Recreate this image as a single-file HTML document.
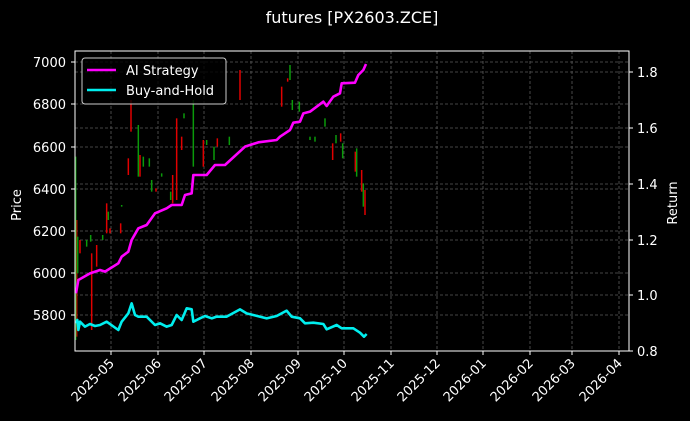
<!DOCTYPE html>
<html><head><meta charset="utf-8"><style>
html,body{margin:0;padding:0;background:#000;}
svg{display:block;font-family:"DejaVu Sans","Liberation Sans",sans-serif;}
</style></head><body>
<svg width="690" height="421" viewBox="0 0 690 421" xmlns="http://www.w3.org/2000/svg">
<rect width="690" height="421" fill="#000"/>
<text x="352" y="23" fill="#fff" font-size="16" text-anchor="middle">futures [PX2603.ZCE]</text>
<g stroke="#5a5a5a" stroke-width="0.8" stroke-dasharray="3,2">
<line x1="111" y1="51" x2="111" y2="351"/><line x1="158" y1="51" x2="158" y2="351"/><line x1="204" y1="51" x2="204" y2="351"/><line x1="251" y1="51" x2="251" y2="351"/><line x1="298" y1="51" x2="298" y2="351"/><line x1="344" y1="51" x2="344" y2="351"/><line x1="391" y1="51" x2="391" y2="351"/><line x1="437" y1="51" x2="437" y2="351"/><line x1="483" y1="51" x2="483" y2="351"/><line x1="530" y1="51" x2="530" y2="351"/><line x1="572" y1="51" x2="572" y2="351"/><line x1="619" y1="51" x2="619" y2="351"/>
<line x1="75" y1="62" x2="629" y2="62"/><line x1="75" y1="104" x2="629" y2="104"/><line x1="75" y1="147" x2="629" y2="147"/><line x1="75" y1="189" x2="629" y2="189"/><line x1="75" y1="231" x2="629" y2="231"/><line x1="75" y1="273" x2="629" y2="273"/><line x1="75" y1="315" x2="629" y2="315"/>
<line x1="75" y1="72" x2="629" y2="72"/><line x1="75" y1="128" x2="629" y2="128"/><line x1="75" y1="184" x2="629" y2="184"/><line x1="75" y1="240" x2="629" y2="240"/><line x1="75" y1="295" x2="629" y2="295"/>
</g>
<g transform="translate(60,40) scale(0.33333)">
<g stroke="#e00000">
<line x1="50" y1="540" x2="50" y2="890" stroke-width="1.5" vector-effect="non-scaling-stroke"/><line x1="60" y1="600" x2="60" y2="640" stroke-width="1.5" vector-effect="non-scaling-stroke"/><line x1="95" y1="640" x2="95" y2="870" stroke-width="1.5" vector-effect="non-scaling-stroke"/><line x1="110" y1="615" x2="110" y2="680" stroke-width="1.5" vector-effect="non-scaling-stroke"/><line x1="140" y1="490" x2="140" y2="580" stroke-width="1.5" vector-effect="non-scaling-stroke"/><line x1="150" y1="565" x2="150" y2="580" stroke-width="1.5" vector-effect="non-scaling-stroke"/><line x1="182" y1="550" x2="182" y2="580" stroke-width="1.5" vector-effect="non-scaling-stroke"/><line x1="205" y1="355" x2="205" y2="405" stroke-width="1.5" vector-effect="non-scaling-stroke"/><line x1="213" y1="180" x2="213" y2="275" stroke-width="1.5" vector-effect="non-scaling-stroke"/><line x1="240" y1="345" x2="240" y2="410" stroke-width="1.5" vector-effect="non-scaling-stroke"/><line x1="288" y1="445" x2="288" y2="455" stroke-width="1.5" vector-effect="non-scaling-stroke"/><line x1="338" y1="405" x2="338" y2="490" stroke-width="1.5" vector-effect="non-scaling-stroke"/><line x1="350" y1="235" x2="350" y2="480" stroke-width="1.5" vector-effect="non-scaling-stroke"/><line x1="365" y1="290" x2="365" y2="330" stroke-width="1.5" vector-effect="non-scaling-stroke"/><line x1="430" y1="300" x2="430" y2="380" stroke-width="1.5" vector-effect="non-scaling-stroke"/><line x1="472" y1="295" x2="472" y2="320" stroke-width="1.5" vector-effect="non-scaling-stroke"/><line x1="540" y1="90" x2="540" y2="180" stroke-width="1.5" vector-effect="non-scaling-stroke"/><line x1="665" y1="140" x2="665" y2="200" stroke-width="1.5" vector-effect="non-scaling-stroke"/><line x1="683" y1="115" x2="683" y2="125" stroke-width="1.5" vector-effect="non-scaling-stroke"/><line x1="818" y1="310" x2="818" y2="360" stroke-width="1.5" vector-effect="non-scaling-stroke"/><line x1="842" y1="280" x2="842" y2="305" stroke-width="1.5" vector-effect="non-scaling-stroke"/><line x1="886" y1="335" x2="886" y2="395" stroke-width="1.5" vector-effect="non-scaling-stroke"/><line x1="905" y1="390" x2="905" y2="455" stroke-width="1.5" vector-effect="non-scaling-stroke"/><line x1="915" y1="450" x2="915" y2="525" stroke-width="1.5" vector-effect="non-scaling-stroke"/>
</g>
<g stroke="#0a9a0a">
<line x1="47" y1="350" x2="47" y2="900" stroke-width="1.5" vector-effect="non-scaling-stroke"/><line x1="53" y1="590" x2="53" y2="700" stroke-width="1.5" vector-effect="non-scaling-stroke"/><line x1="80" y1="600" x2="80" y2="620" stroke-width="1.5" vector-effect="non-scaling-stroke"/><line x1="92" y1="585" x2="92" y2="605" stroke-width="1.5" vector-effect="non-scaling-stroke"/><line x1="128" y1="585" x2="128" y2="600" stroke-width="1.5" vector-effect="non-scaling-stroke"/><line x1="145" y1="515" x2="145" y2="540" stroke-width="1.5" vector-effect="non-scaling-stroke"/><line x1="185" y1="495" x2="185" y2="500" stroke-width="1.5" vector-effect="non-scaling-stroke"/><line x1="235" y1="255" x2="235" y2="410" stroke-width="1.5" vector-effect="non-scaling-stroke"/><line x1="250" y1="350" x2="250" y2="380" stroke-width="1.5" vector-effect="non-scaling-stroke"/><line x1="268" y1="355" x2="268" y2="380" stroke-width="1.5" vector-effect="non-scaling-stroke"/><line x1="275" y1="420" x2="275" y2="455" stroke-width="1.5" vector-effect="non-scaling-stroke"/><line x1="305" y1="400" x2="305" y2="410" stroke-width="1.5" vector-effect="non-scaling-stroke"/><line x1="332" y1="455" x2="332" y2="480" stroke-width="1.5" vector-effect="non-scaling-stroke"/><line x1="372" y1="220" x2="372" y2="235" stroke-width="1.5" vector-effect="non-scaling-stroke"/><line x1="400" y1="180" x2="400" y2="380" stroke-width="1.5" vector-effect="non-scaling-stroke"/><line x1="440" y1="300" x2="440" y2="315" stroke-width="1.5" vector-effect="non-scaling-stroke"/><line x1="462" y1="320" x2="462" y2="360" stroke-width="1.5" vector-effect="non-scaling-stroke"/><line x1="508" y1="290" x2="508" y2="315" stroke-width="1.5" vector-effect="non-scaling-stroke"/><line x1="690" y1="75" x2="690" y2="120" stroke-width="1.5" vector-effect="non-scaling-stroke"/><line x1="697" y1="180" x2="697" y2="210" stroke-width="1.5" vector-effect="non-scaling-stroke"/><line x1="718" y1="185" x2="718" y2="215" stroke-width="1.5" vector-effect="non-scaling-stroke"/><line x1="750" y1="290" x2="750" y2="300" stroke-width="1.5" vector-effect="non-scaling-stroke"/><line x1="765" y1="290" x2="765" y2="305" stroke-width="1.5" vector-effect="non-scaling-stroke"/><line x1="795" y1="235" x2="795" y2="260" stroke-width="1.5" vector-effect="non-scaling-stroke"/><line x1="828" y1="285" x2="828" y2="310" stroke-width="1.5" vector-effect="non-scaling-stroke"/><line x1="848" y1="310" x2="848" y2="355" stroke-width="1.5" vector-effect="non-scaling-stroke"/><line x1="890" y1="325" x2="890" y2="410" stroke-width="1.5" vector-effect="non-scaling-stroke"/><line x1="910" y1="430" x2="910" y2="500" stroke-width="1.5" vector-effect="non-scaling-stroke"/>
</g>
<polyline fill="none" stroke="#ff00ff" stroke-width="2.6" vector-effect="non-scaling-stroke" stroke-linejoin="round" points="48,760 55,720 90,700 120,690 135,695 175,670 185,650 205,635 215,600 235,565 260,555 285,520 320,505 335,495 365,495 375,465 395,460 400,405 440,405 465,375 495,375 555,320 595,307 650,300 660,290 690,270 700,248 720,245 730,220 750,215 790,185 800,198 820,170 840,160 845,130 885,128 895,105 910,90 918,72"/>
<polyline fill="none" stroke="#00eeee" stroke-width="2.6" vector-effect="non-scaling-stroke" stroke-linejoin="round" points="48,850 52,840 55,870 60,845 75,860 90,852 105,858 120,855 140,845 175,870 185,845 205,820 215,790 225,825 235,830 260,830 285,855 300,850 320,860 335,855 350,825 365,840 380,805 395,808 400,845 420,835 435,828 455,835 470,830 500,830 540,808 560,820 620,835 650,828 680,812 695,830 720,835 735,850 760,848 790,852 800,868 830,855 845,865 880,865 900,878 912,890 920,882"/>
</g>
<rect x="75" y="51" width="554" height="300" fill="none" stroke="#fff" stroke-width="1"/>
<g stroke="#fff" stroke-width="1">
<line x1="71" y1="62" x2="75" y2="62"/><line x1="71" y1="104" x2="75" y2="104"/><line x1="71" y1="147" x2="75" y2="147"/><line x1="71" y1="189" x2="75" y2="189"/><line x1="71" y1="231" x2="75" y2="231"/><line x1="71" y1="273" x2="75" y2="273"/><line x1="71" y1="315" x2="75" y2="315"/>
<line x1="629" y1="72" x2="633" y2="72"/><line x1="629" y1="128" x2="633" y2="128"/><line x1="629" y1="184" x2="633" y2="184"/><line x1="629" y1="240" x2="633" y2="240"/><line x1="629" y1="295" x2="633" y2="295"/><line x1="629" y1="351" x2="633" y2="351"/>
<line x1="111" y1="351" x2="111" y2="355"/><line x1="158" y1="351" x2="158" y2="355"/><line x1="204" y1="351" x2="204" y2="355"/><line x1="251" y1="351" x2="251" y2="355"/><line x1="298" y1="351" x2="298" y2="355"/><line x1="344" y1="351" x2="344" y2="355"/><line x1="391" y1="351" x2="391" y2="355"/><line x1="437" y1="351" x2="437" y2="355"/><line x1="483" y1="351" x2="483" y2="355"/><line x1="530" y1="351" x2="530" y2="355"/><line x1="572" y1="351" x2="572" y2="355"/><line x1="619" y1="351" x2="619" y2="355"/>
</g>
<g fill="#fff" font-size="13" text-anchor="end">
<text x="66" y="67">7000</text><text x="66" y="109">6800</text><text x="66" y="152">6600</text><text x="66" y="194">6400</text><text x="66" y="236">6200</text><text x="66" y="278">6000</text><text x="66" y="320">5800</text>
</g>
<g fill="#fff" font-size="13">
<text x="637" y="77">1.8</text><text x="637" y="133">1.6</text><text x="637" y="189">1.4</text><text x="637" y="245">1.2</text><text x="637" y="300">1.0</text><text x="637" y="356">0.8</text>
</g>
<g fill="#fff" font-size="13" text-anchor="end">
<text transform="translate(115,364) rotate(-45)">2025-05</text>
<text transform="translate(162,364) rotate(-45)">2025-06</text>
<text transform="translate(208,364) rotate(-45)">2025-07</text>
<text transform="translate(255,364) rotate(-45)">2025-08</text>
<text transform="translate(302,364) rotate(-45)">2025-09</text>
<text transform="translate(348,364) rotate(-45)">2025-10</text>
<text transform="translate(395,364) rotate(-45)">2025-11</text>
<text transform="translate(441,364) rotate(-45)">2025-12</text>
<text transform="translate(487,364) rotate(-45)">2026-01</text>
<text transform="translate(534,364) rotate(-45)">2026-02</text>
<text transform="translate(576,364) rotate(-45)">2026-03</text>
<text transform="translate(623,364) rotate(-45)">2026-04</text>
</g>
<text transform="translate(21,205) rotate(-90)" fill="#fff" font-size="13" text-anchor="middle">Price</text>
<text transform="translate(677,203) rotate(-90)" fill="#fff" font-size="13" text-anchor="middle">Return</text>
<rect x="82" y="58" width="144" height="46" rx="3" fill="#000" fill-opacity="0.8" stroke="#ccc" stroke-width="1"/>
<line x1="87" y1="70" x2="116" y2="70" stroke="#ff00ff" stroke-width="2.6"/>
<line x1="87" y1="90" x2="116" y2="90" stroke="#00eeee" stroke-width="2.6"/>
<text x="126" y="75" fill="#fff" font-size="13">AI Strategy</text>
<text x="126" y="95" fill="#fff" font-size="13">Buy-and-Hold</text>
</svg>
</body></html>
